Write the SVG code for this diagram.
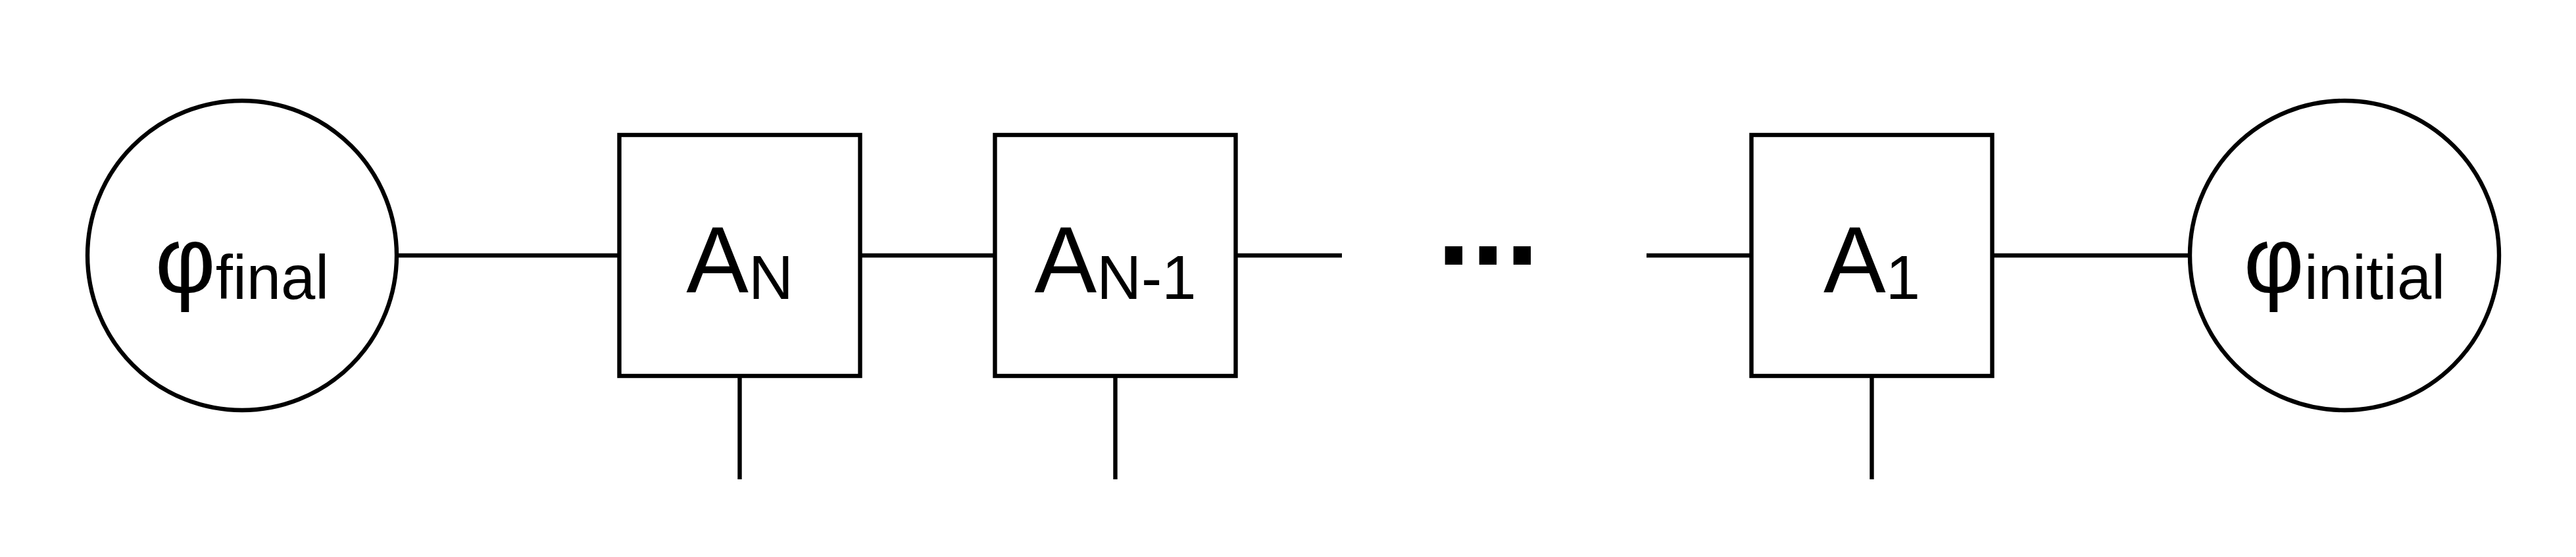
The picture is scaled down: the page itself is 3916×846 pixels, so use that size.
<svg xmlns="http://www.w3.org/2000/svg" width="3916" height="846" viewBox="0 0 3916 846">
<style>
.shape{fill:#fff;stroke:#000;stroke-width:6.4}
.edge{fill:none;stroke:#000;stroke-width:6.4}
.lbl{font-family:"Liberation Sans",Arial,Helvetica,sans-serif;font-size:142px;fill:#000;text-anchor:middle}
.sub{font-size:94px}
.dots{font-family:"Liberation Sans",Arial,sans-serif;font-weight:bold;font-size:187px;fill:#000;text-anchor:middle}
</style>
<rect width="3916" height="846" fill="#fff"/>
<g id="connectors">
<line class="edge" x1="603" y1="388" x2="941.5" y2="388"/>
<line class="edge" x1="1307.5" y1="388" x2="1512.5" y2="388"/>
<line class="edge" x1="1878.5" y1="388" x2="2040" y2="388"/>
<line class="edge" x1="2503" y1="388" x2="2662.5" y2="388"/>
<line class="edge" x1="3028.5" y1="388" x2="3329" y2="388"/>
<line class="edge" x1="1124.5" y1="571" x2="1124.5" y2="728"/>
<line class="edge" x1="1695.5" y1="571" x2="1695.5" y2="728"/>
<line class="edge" x1="2845.5" y1="571" x2="2845.5" y2="728"/>
</g>
<g id="phi_final">
<circle class="shape" cx="368" cy="388" r="235"/>
<text class="lbl" x="368" y="444">φ<tspan class="sub" dy="10">final</tspan></text>
</g>
<g id="A_N">
<rect class="shape" x="941.5" y="205" width="366" height="366"/>
<text class="lbl" x="1124.5" y="444">A<tspan class="sub" dy="10">N</tspan></text>
</g>
<g id="A_N-1">
<rect class="shape" x="1512.5" y="205" width="366" height="366"/>
<text class="lbl" x="1695.5" y="444">A<tspan class="sub" dy="10">N-1</tspan></text>
</g>
<g id="ellipsis">
<text class="dots" x="2262" y="402">...</text>
</g>
<g id="A_1">
<rect class="shape" x="2662.5" y="205" width="366" height="366"/>
<text class="lbl" x="2845.5" y="444">A<tspan class="sub" dy="10">1</tspan></text>
</g>
<g id="phi_initial">
<circle class="shape" cx="3564" cy="388" r="235"/>
<text class="lbl" x="3564" y="444">φ<tspan class="sub" dy="10">initial</tspan></text>
</g>
</svg>
